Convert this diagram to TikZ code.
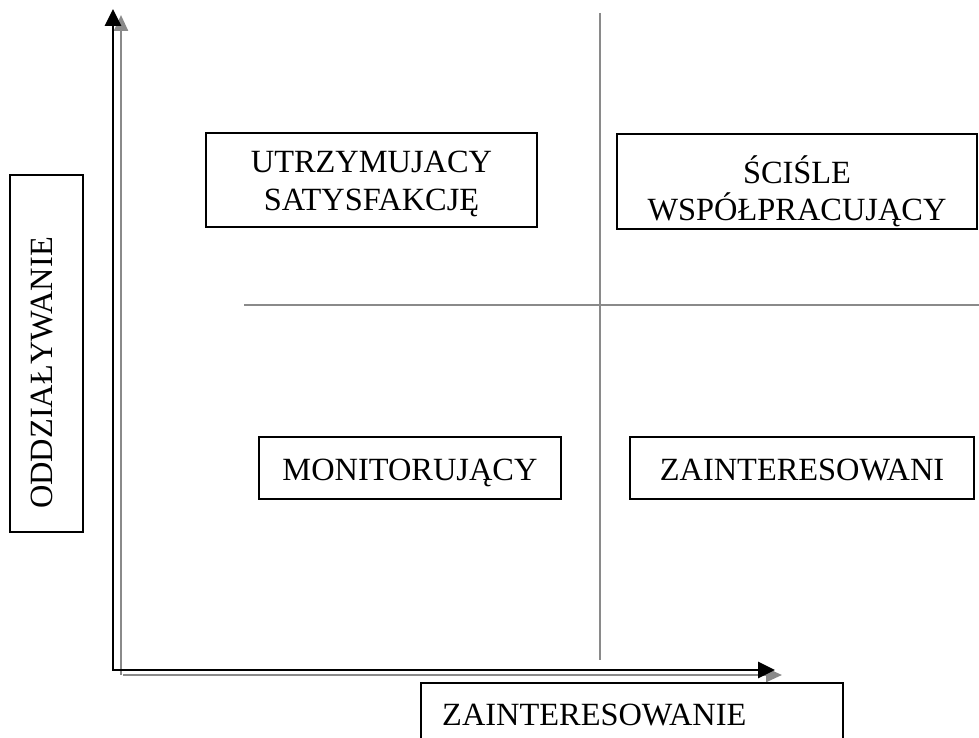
\documentclass[tikz,border=0pt]{standalone}
\usepackage{fontspec}
\setmainfont{Liberation Serif}
\usetikzlibrary{arrows.meta}
\definecolor{axgray}{RGB}{138,138,138}
\tikzset{
  box/.style={draw=black, line width=2.2pt, inner sep=0pt, outer sep=0pt},
  lbl/.style={anchor=base, inner sep=0pt, font=\fontsize{32.4}{38}\selectfont},
  blackaxis/.style={draw=black, line width=2.8pt, {Triangle[length=17pt,width=16pt]}-{Triangle[length=17pt,width=16pt]}},
  grayaxis/.style={draw=axgray, line width=2.4pt, -{Triangle[length=16pt,width=14pt]}},
  divider/.style={draw=axgray, line width=2.4pt}
}
\begin{document}
\begin{tikzpicture}[x=1pt,y=-1pt]
\useasboundingbox (0,0) rectangle (979,738);
% quadrant dividers
\coordinate (vTop) at (600,13);
\coordinate (vBot) at (600,660);
\coordinate (hL) at (244,305);
\coordinate (hR) at (979,305);
\draw[divider] (vTop) -- (vBot);
\draw[divider] (hL) -- (hR);
% axes
\coordinate (gO1) at (121,675);
\coordinate (gY) at (121,15);
\coordinate (gO2) at (123,675);
\coordinate (gX) at (782,675);
\draw[grayaxis] (gO1) -- (gY);
\draw[grayaxis] (gO2) -- (gX);
\coordinate (bO) at (113,670);
\coordinate (bY) at (113,9);
\coordinate (bX) at (775,670);
\draw[blackaxis] (bY) -- (bO) -- (bX);
% boxes
\node[box, minimum width=331pt, minimum height=94pt] (b1) at (371.5,180) {};
\node[box, minimum width=360pt, minimum height=95pt] (b2) at (797,181.5) {};
\node[box, minimum width=302pt, minimum height=62pt] (b3) at (410,468) {};
\node[box, minimum width=344pt, minimum height=62pt] (b4) at (802,468) {};
\node[box, minimum width=73pt, minimum height=357pt] (b5) at (46.5,353.5) {};
\node[box, minimum width=422pt, minimum height=80pt] (b6) at (632,723) {};
% texts
\node[lbl] (t1a) at (371.5,173) {UTRZYMUJACY};
\node[lbl] (t1b) at (371.5,210) {SATYSFAKCJĘ};
\node[lbl] (t2a) at (797,183) {ŚCIŚLE};
\node[lbl] (t2b) at (797,220) {WSPÓŁPRACUJĄCY};
\node[lbl] (t3) at (410,480) {MONITORUJĄCY};
\node[lbl] (t4) at (802,480) {ZAINTERESOWANI};
\node[lbl, anchor=base west] (t6) at (442,725) {ZAINTERESOWANIE};
\node[lbl, rotate=90] (t5) at (52,373) {ODDZIAŁYWANIE};
\end{tikzpicture}
\end{document}
